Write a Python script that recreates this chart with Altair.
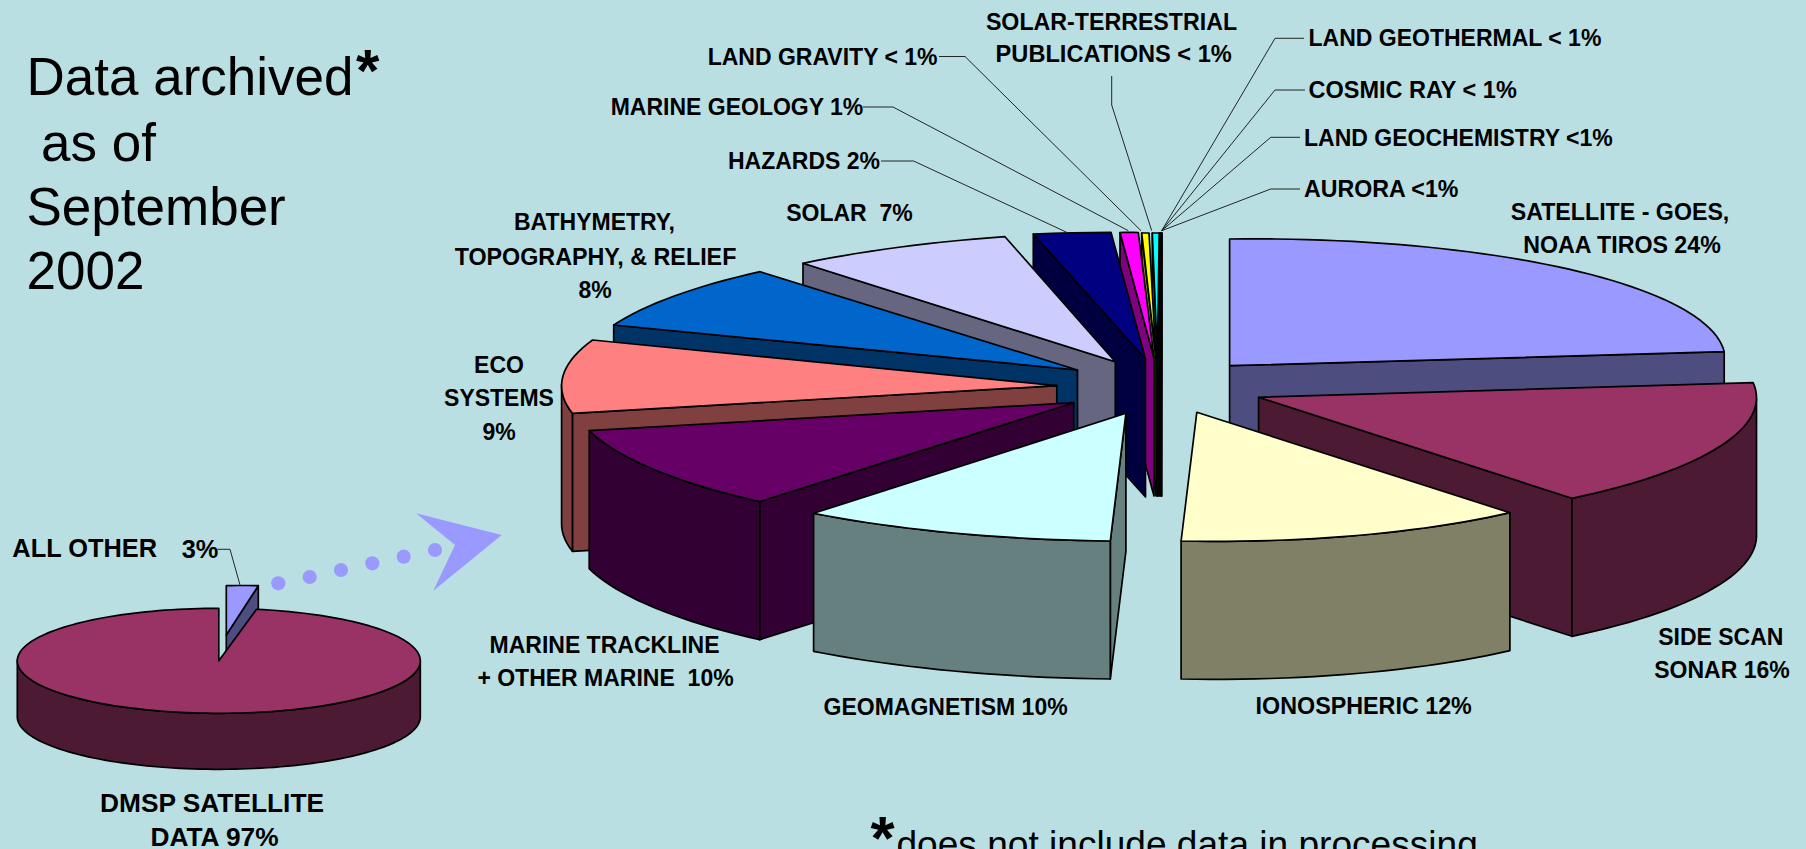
import math
import altair as alt

W, H = 1806, 849
BG = "#BADFE3"

# ---------- values ----------
slice_names = ["AURORA", "LAND GEOCHEMISTRY", "COSMIC RAY", "LAND GEOTHERMAL", "SOLAR-TERRESTRIAL PUBLICATIONS",
               "LAND GRAVITY", "MARINE GEOLOGY", "HAZARDS", "SOLAR", "BATHYMETRY", "ECO SYSTEMS",
               "MARINE TRACKLINE", "GEOMAGNETISM", "SATELLITE", "SIDE SCAN SONAR", "IONOSPHERIC"]
slice_shares = [0.2, 0.2, 0.2, 0.2, 0.4, 0.4, 1, 2, 7, 8, 9, 10, 10, 24, 16, 12]
inset_names = ["ALL OTHER", "DMSP SATELLITE DATA"]
inset_shares = [3, 97]

# ---------- styles ----------
top_colors = ["#000000", "#000000", "#000000", "#000000", "#00FFFF", "#FFFF00", "#FF00FF", "#000080", "#CCCCFF",
              "#0066CC", "#FF8080", "#660066", "#CCFFFF", "#9999FF", "#993366", "#FFFFCC"]
wall_colors = ["#000000", "#000000", "#000000", "#000000", "#008080", "#808000", "#800080", "#000040", "#666680",
               "#003366", "#804040", "#330033", "#668080", "#4D4D80", "#4D1A33", "#808066"]

# ---------- layout of the exploded perspective pie: apex, radial end 1, radial end 2 ----------
layout = [
    ((1161.6, 358), (1161.4, 233), (1161.9, 233)),
    ((1160.4, 358), (1160.9, 233), (1161.4, 233)),
    ((1159.2, 358), (1160.4, 233), (1160.9, 233)),
    ((1158.0, 358), (1159.9, 233), (1160.4, 233)),
    ((1157.4, 358), (1159.2, 233), (1152.3, 233)),
    ((1156.0, 358), (1149.0, 233), (1141.7, 233)),
    ((1154.0, 358), (1138.3, 232.5), (1120.0, 232.5)),
    ((1145.5, 359), (1111.0, 232.3), (1033.3, 234)),
    ((1115.3, 361.7), (1005.0, 236.7), (803.0, 263.3)),
    ((1077.5, 370.0), (760.1, 271.7), (613.7, 325.0)),
    ((1056.8, 385.7), (592.6, 340.0), (572.4, 413.3)),
    ((1073.7, 402.7), (589.2, 430.7), (759.7, 501.7)),
    ((1125.9, 413.3), (813.6, 513.3), (1110.3, 541.0)),
    ((1229.6, 365.7), (1229.6, 239.0), (1724.2, 351.7)),
    ((1258.6, 397.3), (1753.2, 382.7), (1572.0, 498.3)),
    ((1196.8, 412.3), (1509.9, 512.7), (1181.1, 541.0)),
]
DEPTH = 138
INSET_C, INSET_RX, INSET_RY, INSET_DEPTH = (218.8, 660.8), 201.5, 52.5, 56


def feature(points, fill):
    pts = [[round(x, 2), round(y, 2)] for x, y in points]
    pts.append(pts[0])
    return {"type": "Feature", "properties": {"fill": fill},
            "geometry": {"type": "Polygon", "coordinates": [pts]}}


def arc_from_ends(a, p1, p2, share):
    phi = math.radians(share * 3.6)
    u = (p1[0] - a[0], p1[1] - a[1])
    q = (p2[0] - a[0], p2[1] - a[1])
    v = ((q[0] - u[0] * math.cos(phi)) / math.sin(phi), (q[1] - u[1] * math.cos(phi)) / math.sin(phi))
    n = max(4, int(share * 2))
    return [(a[0] + u[0] * math.cos(phi * i / n) + v[0] * math.sin(phi * i / n),
             a[1] + u[1] * math.cos(phi * i / n) + v[1] * math.sin(phi * i / n)) for i in range(n + 1)]


def prism(a, arc, depth, top, wall):
    poly = [a] + arc
    area = sum(poly[i][0] * poly[(i + 1) % len(poly)][1] - poly[(i + 1) % len(poly)][0] * poly[i][1]
               for i in range(len(poly)))
    s = 1 if area > 0 else -1

    def front(p, q):
        return s * (q[0] - p[0]) < -1e-9

    def down(pts):
        return [(x, y + depth) for x, y in pts]

    out = []
    for p, q in ((a, arc[0]), (arc[-1], a)):
        if front(p, q):
            out.append(feature([p, q] + down([q, p]), wall))
    run = []
    for i in range(len(arc) - 1):
        if front(arc[i], arc[i + 1]):
            run = run or [arc[i]]
            run.append(arc[i + 1])
        elif run:
            out.append(feature(run + down(run[::-1]), wall))
            run = []
    if run:
        out.append(feature(run + down(run[::-1]), wall))
    out.append(feature(poly, top))
    return out


features = []
for share, geo, top, wall in zip(slice_shares, layout, top_colors, wall_colors):
    a, p1, p2 = geo
    features += prism(a, arc_from_ends(a, p1, p2, share), DEPTH, top, wall)

# inset pie
other_share, dmsp_share = inset_shares
other_a = (226.3, 635.0)
features += prism(other_a, arc_from_ends(other_a, (258.3, 585.7), (226.3, 585.7), other_share),
                  INSET_DEPTH, "#9999FF", "#4D4D80")
start = other_share * 3.6
n = 180
dmsp_arc = []
for i in range(n + 1):
    t = math.radians(start + (360 - start) * i / n)
    dmsp_arc.append((INSET_C[0] + INSET_RX * math.sin(t), INSET_C[1] - INSET_RY * math.cos(t)))
features += prism(INSET_C, dmsp_arc, INSET_DEPTH, "#993366", "#4D1A33")

projection = dict(type="identity", reflectY=False, scale=1, translate=[0, 0])

polys = alt.Chart(alt.Data(values=features)).mark_geoshape(
    stroke="black", strokeWidth=1.7, strokeJoin="round"
).encode(fill=alt.Fill("properties.fill:N", scale=None)).project(**projection)

arrow = alt.Chart(alt.Data(values=[feature([(416, 513.3), (501.7, 535), (433.3, 590.7), (455, 545)], "#9999FF")])).mark_geoshape(
    strokeWidth=0
).encode(fill=alt.Fill("properties.fill:N", scale=None)).project(**projection)

xs = alt.Scale(domain=[0, W], range=[0, W])
ys = alt.Scale(domain=[0, H], range=[0, H])
X = alt.X("x:Q", scale=xs, axis=None)
Y = alt.Y("y:Q", scale=ys, axis=None)

# leaders
leaders = [
    [(1304, 50), (1275, 50), (1161.7, 230.7)],
    [(1305, 117), (1275, 117), (1161.7, 230.7)],
    [(1300, 179), (1270.7, 179), (1161.7, 230.7)],
    [(1300, 246), (1270.7, 246), (1161.7, 230.7)],
]
leaders = [
    [(1304, 38.3), (1275, 38.3), (1161.7, 230.7)],
    [(1305, 90), (1275, 90), (1161.7, 230.7)],
    [(1300, 137.3), (1270.7, 137.3), (1161.7, 230.7)],
    [(1300, 189), (1270.7, 189), (1161.7, 230.7)],
    [(1111.7, 76), (1111.7, 105), (1151.7, 230.7)],
    [(939, 56.5), (965, 56.5), (1141, 230.7)],
    [(863, 107), (893, 107), (1128.3, 230.7)],
    [(881, 161), (913.6, 161), (1066.7, 232.3)],
    [(217.3, 549.3), (230, 549.3), (240, 585)],
]
leader_rows = [{"g": g, "i": i, "x": x, "y": y} for g, line in enumerate(leaders) for i, (x, y) in enumerate(line)]
leader_layer = alt.Chart(alt.Data(values=leader_rows)).mark_line(color="#111111", strokeWidth=0.9).encode(
    x=X, y=Y, detail="g:N", order="i:Q")

# dots of the arrow
dots = [(278.3, 583.3), (309.7, 577), (341, 570), (372.3, 563.3), (403.7, 556.7), (435, 550)]
dot_layer = alt.Chart(alt.Data(values=[{"x": x, "y": y} for x, y in dots])).mark_circle(
    size=201, color="#9999FF", opacity=1).encode(x=X, y=Y)

# labels
NB = "\u00a0"
center_labels = [
    ("SOLAR-TERRESTRIAL", 1111.5, 22.5, 23.2), ("PUBLICATIONS < 1%", 1113.7, 54.5, 23.6),
    ("LAND GRAVITY < 1%", 822.6, 58, 23), ("MARINE GEOLOGY 1%", 737, 107.5, 23),
    ("HAZARDS 2%", 804, 161.5, 23), ("SOLAR" + NB + NB + "7%", 849.5, 213.5, 23),
    ("BATHYMETRY,", 594.5, 222.5, 23), ("TOPOGRAPHY, & RELIEF", 595.5, 257.5, 23.3), ("8%", 595, 290.5, 23),
    ("ECO", 499, 365.5, 23), ("SYSTEMS", 499, 398.5, 23), ("9%", 499, 432.5, 23),
    ("MARINE TRACKLINE", 604.5, 645.5, 23), ("+ OTHER MARINE" + NB + NB + "10%", 605.5, 678.5, 23),
    ("GEOMAGNETISM 10%", 945.6, 707.5, 23), ("IONOSPHERIC 12%", 1363.7, 706.5, 23.3),
    ("SIDE SCAN", 1720.8, 637.5, 23), ("SONAR 16%", 1722, 670.5, 23),
    ("SATELLITE - GOES,", 1620, 212.5, 23.2), ("NOAA TIROS 24%", 1622, 245.5, 23.2),
    ("ALL OTHER", 84.7, 549, 25.4), ("3%", 200, 550, 25.4),
    ("DMSP SATELLITE", 212, 804, 26.3), ("DATA 97%", 214.5, 838, 26.3),
]
left_labels = [
    ("LAND GEOTHERMAL < 1%", 1308.5, 38.5, 23), ("COSMIC RAY < 1%", 1308.5, 90.5, 23.5),
    ("LAND GEOCHEMISTRY <1%", 1304, 138.5, 23), ("AURORA <1%", 1304, 189.5, 23.2),
]
title_lines = [
    ("Data archived", 26.5, 95), ("as of", 41, 161), ("September", 26.5, 225), ("2002", 26.5, 289),
]
stars = [("*", 356, 91, 60), ("*", 870.5, 859, 62)]
note = [("does not include data in processing", 896.5, 857)]


def rows(items):
    keys = ["t", "x", "y", "s"]
    return [dict(zip(keys, it)) for it in items]


center_layer = alt.Chart(alt.Data(values=rows(center_labels))).mark_text(
    font="Liberation Sans", fontWeight="bold", align="center", baseline="middle", color="black"
).encode(x=X, y=Y, text="t:N", size=alt.Size("s:Q", scale=None))
left_layer = alt.Chart(alt.Data(values=rows(left_labels))).mark_text(
    font="Liberation Sans", fontWeight="bold", align="left", baseline="middle", color="black"
).encode(x=X, y=Y, text="t:N", size=alt.Size("s:Q", scale=None))
title_layer = alt.Chart(alt.Data(values=rows(title_lines))).mark_text(
    font="Liberation Sans", align="left", baseline="alphabetic", color="black", fontSize=53
).encode(x=X, y=Y, text="t:N")
star_layer = alt.Chart(alt.Data(values=rows(stars))).mark_text(
    font="Liberation Sans", fontWeight="bold", align="left", baseline="alphabetic", color="black"
).encode(x=X, y=Y, text="t:N", size=alt.Size("s:Q", scale=None))
note_layer = alt.Chart(alt.Data(values=rows(note))).mark_text(
    font="Liberation Sans", align="left", baseline="alphabetic", color="black", fontSize=37.1
).encode(x=X, y=Y, text="t:N")

chart = alt.layer(
    polys, arrow, dot_layer, leader_layer, center_layer, left_layer, title_layer, star_layer, note_layer
).properties(
    width=W, height=H, padding=0, autosize=alt.AutoSizeParams(type="none"), background=BG,
).configure_view(strokeWidth=0)

chart.save("out.html", embed_options={"renderer": "svg", "actions": False,
                                      "defaultStyle": "html,body{margin:0;padding:0;overflow:hidden;background:%s}" % BG})
